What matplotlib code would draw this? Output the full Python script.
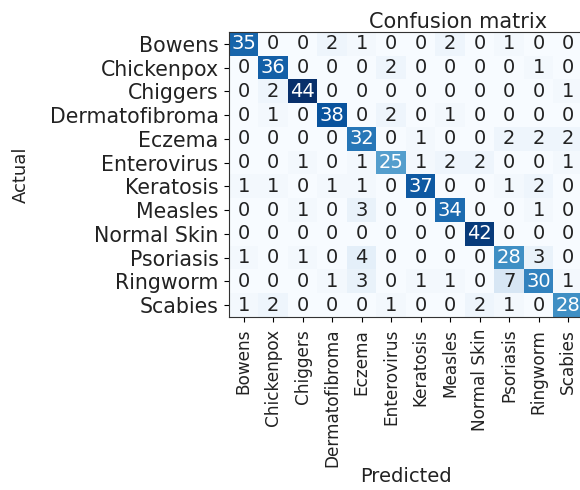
import numpy as np
import matplotlib
matplotlib.use("Agg")
import matplotlib.pyplot as plt

classes = ['Bowens', 'Chickenpox', 'Chiggers', 'Dermatofibroma', 'Eczema',
           'Enterovirus', 'Keratosis', 'Measles', 'Normal Skin', 'Psoriasis',
           'Ringworm', 'Scabies']

# rows = actual class, columns = predicted class
cm = np.array([
    [35, 0, 0, 2, 1, 0, 0, 2, 0, 1, 0, 0],
    [0, 36, 0, 0, 0, 2, 0, 0, 0, 0, 1, 0],
    [0, 2, 44, 0, 0, 0, 0, 0, 0, 0, 0, 1],
    [0, 1, 0, 38, 0, 2, 0, 1, 0, 0, 0, 0],
    [0, 0, 0, 0, 32, 0, 1, 0, 0, 2, 2, 2],
    [0, 0, 1, 0, 1, 25, 1, 2, 2, 0, 0, 1],
    [1, 1, 0, 1, 1, 0, 37, 0, 0, 1, 2, 0],
    [0, 0, 1, 0, 3, 0, 0, 34, 0, 0, 1, 0],
    [0, 0, 0, 0, 0, 0, 0, 0, 42, 0, 0, 0],
    [1, 0, 1, 0, 4, 0, 0, 0, 0, 28, 3, 0],
    [0, 0, 0, 1, 3, 0, 1, 1, 0, 7, 30, 1],
    [1, 2, 0, 0, 0, 1, 0, 0, 2, 1, 0, 28],
])

plt.rcParams['text.color'] = '#222222'
plt.rcParams['xtick.labelcolor'] = '#222222'
plt.rcParams['ytick.labelcolor'] = '#222222'
plt.rcParams['axes.labelcolor'] = '#222222'

fig = plt.figure(figsize=(5.8, 4.9), dpi=100)
ax = fig.add_axes([229 / 580, 1 - 317 / 490, 354 / 580, 285 / 490])

ax.imshow(cm, interpolation='nearest', cmap=plt.cm.Blues, aspect='auto')

thresh = cm.max() / 2.0
for i in range(cm.shape[0]):
    for j in range(cm.shape[1]):
        ax.text(j, i, str(cm[i, j]), ha='center', va='center', fontsize=14,
                color='white' if cm[i, j] > thresh else '#222222')

ticks = np.arange(len(classes))
ax.set_xticks(ticks)
ax.set_xticklabels(classes, rotation=90, fontsize=12.2)
ax.set_yticks(ticks)
ax.set_yticklabels(classes, fontsize=14.8)
ax.tick_params(axis='x', pad=5)
ax.tick_params(axis='y', pad=4)

ax.set_title('Confusion matrix', fontsize=15, x=0.647, pad=3)
ax.set_xlabel('Predicted', fontsize=14, labelpad=0)
ax.set_ylabel('Actual', fontsize=13, labelpad=14)

for s in ax.spines.values():
    s.set_color('#333333')

plt.savefig('out.png', dpi=100)
